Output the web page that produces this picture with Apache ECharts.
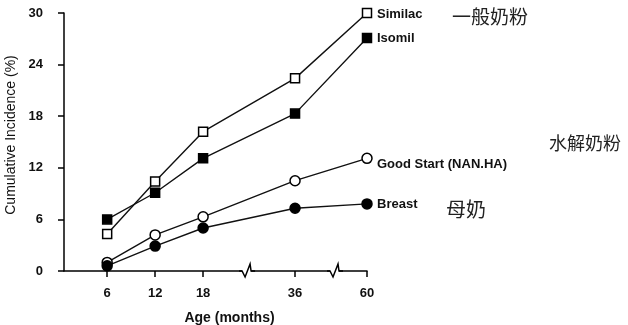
<!DOCTYPE html>
<html><head><meta charset="utf-8">
<script src="https://cdn.jsdelivr.net/npm/echarts@6/dist/echarts.min.js"></script>
<style>html,body{margin:0;padding:0;background:#fff}#c{width:628px;height:325px}</style>
</head><body><div id="c"></div>
<script>
const ages = [6, 12, 18, 36, 60];
const yTicks = [0, 6, 12, 18, 24, 30];
const similac = [4.3, 10.4, 16.2, 22.4, 30.0];
const isomil = [6.0, 9.1, 13.1, 18.3, 27.1];
const goodStart = [1.0, 4.2, 6.3, 10.5, 13.1];
const breast = [0.6, 2.9, 5.0, 7.3, 7.8];
const seriesNames = ['Similac', 'Isomil', 'Good Start (NAN.HA)', 'Breast'];
const axisBreaks = [[23, 30.5], [40.5, 56.5]];
const notes = ['一般奶粉', '水解奶粉', '母奶'];

const FONT = '"Liberation Sans", Arial, Helvetica, sans-serif';
const CJK = '"Noto Sans CJK SC", sans-serif';

function pts(vals) { return ages.map((a, i) => [a, vals[i]]); }

function lineSeries(name, vals, symbol, filled, labelOffset) {
  return {
    type: 'line', name: name, data: pts(vals),
    symbol: symbol, symbolSize: symbol === 'rect' ? 9 : 10,
    showAllSymbol: true, z: 3,
    lineStyle: { color: '#111', width: 1.4 },
    itemStyle: { color: filled ? '#000' : '#fff', borderColor: '#000', borderWidth: 1.5, opacity: 1 },
    endLabel: {
      show: true, formatter: '{a}', distance: 10, offset: labelOffset,
      fontFamily: FONT, fontWeight: 'bold', fontSize: 13, color: '#111'
    },
    emphasis: { disabled: true }, animation: false
  };
}

const chart = echarts.init(document.getElementById('c'), null, { renderer: 'canvas' });
chart.setOption({
  backgroundColor: '#fff',
  animation: false,
  grid: { left: 64, right: 261, top: 13, bottom: 54, outerBoundsMode: 'none' },
  xAxis: {
    type: 'value', min: 0.6, max: 60,
    breaks: axisBreaks.map(b => ({ start: b[0], end: b[1], gap: 1 })),
    breakArea: { show: false },
    splitLine: { show: false },
    axisLine: { show: true, lineStyle: { color: '#000', width: 1.5 } },
    axisTick: { show: true, customValues: ages, length: 6, lineStyle: { color: '#000', width: 1.5 } },
    axisLabel: { customValues: ages, margin: 16, fontFamily: FONT, fontWeight: 'bold', fontSize: 13, color: '#111' },
    name: 'Age (months)', nameLocation: 'middle', nameGap: 40,
    nameTextStyle: { fontFamily: FONT, fontWeight: 'bold', fontSize: 14, color: '#111', padding: [0, 0, 0, 28] }
  },
  yAxis: {
    type: 'value', min: 0, max: 30, interval: 6,
    splitLine: { show: false },
    axisLine: { show: true, lineStyle: { color: '#000', width: 1.5 } },
    axisTick: { show: true, customValues: yTicks, length: 6, lineStyle: { color: '#000', width: 1.5 } },
    axisLabel: { customValues: yTicks, margin: 21, fontFamily: FONT, fontWeight: 'bold', fontSize: 13, color: '#111' },
    name: 'Cumulative Incidence (%)', nameLocation: 'middle', nameGap: 46,
    nameTextStyle: { fontFamily: FONT, fontSize: 14, color: '#111', padding: [0, 0, 0, 14] }
  },
  series: [
    lineSeries(seriesNames[0], similac, 'rect', false, [0, 1]),
    lineSeries(seriesNames[1], isomil, 'rect', true, [0, 0]),
    lineSeries(seriesNames[2], goodStart, 'circle', false, [0, 6]),
    lineSeries(seriesNames[3], breast, 'circle', true, [0, 1]),
    {
      type: 'custom', data: axisBreaks, silent: true, z: 5, clip: false,
      encode: { x: [0, 1] },
      renderItem: function (params, api) {
        const a = api.coord([api.value(0), 0]);
        const b = api.coord([api.value(1), 0]);
        const cx = (a[0] + b[0]) / 2, y = a[1];
        return {
          type: 'group', children: [
            { type: 'rect', shape: { x: cx - 5, y: y - 2, width: 9, height: 4 }, style: { fill: '#fff' } },
            { type: 'polyline', shape: { points: [[cx - 8, y], [cx - 5, y], [cx - 2, y + 6], [cx + 3, y - 7], [cx + 4, y], [cx + 8, y]] },
              style: { stroke: '#000', lineWidth: 1.5, fill: null, lineJoin: 'miter' } }
          ]
        };
      }
    }
  ],
  graphic: [
    { type: 'text', left: 452, top: 7, style: { text: notes[0], font: '19px ' + CJK, fill: '#222' } },
    { type: 'text', left: 549, top: 134, style: { text: notes[1], font: '18px ' + CJK, fill: '#222' } },
    { type: 'text', left: 446, top: 199, style: { text: notes[2], font: '20px ' + CJK, fill: '#222' } }
  ]
});
</script>
</body></html>
